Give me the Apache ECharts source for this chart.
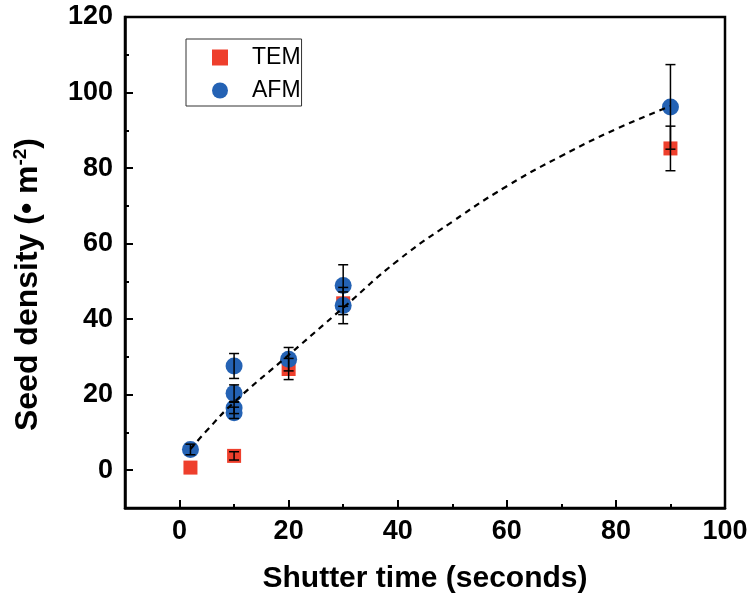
<!DOCTYPE html>
<html>
<head>
<meta charset="utf-8">
<script src="https://cdn.jsdelivr.net/npm/echarts@6/dist/echarts.min.js"></script>
<style>
html,body{margin:0;padding:0;background:#fff;}
#chart{width:751px;height:604px;}
</style>
</head>
<body>
<div id="chart"></div>
<script>
// ---- data ----
var temX = [2, 10, 20, 30, 90];
var temY = [0.7, 3.8, 26.8, 44.2, 85.2];
var temErr = [0, 1.1, 2.8, 3.0, 5.9];

var afmX = [2, 10, 10, 10, 10, 20, 30, 30, 90];
var afmY = [5.5, 27.6, 20.4, 16.5, 15.2, 29.4, 48.9, 43.6, 96.2];
var afmErr = [1.4, 3.3, 2.2, 1.5, 1.5, 3.1, 5.5, 4.8, 11.2];

var fitX = [2, 5, 10, 20, 30, 40, 50, 60, 70, 80, 90];
var fitY = [5.6, 10.5, 18, 30.5, 43, 55.5, 65.8, 75.2, 83.2, 90.3, 96.4];

var xMajorTicks = [0, 20, 40, 60, 80, 100];
var yMajorTicks = [0, 20, 40, 60, 80, 100, 120];

var FONT = "'Liberation Sans', Arial, sans-serif";

function zip(xs, ys) { return xs.map(function (x, i) { return [x, ys[i]]; }); }
function zip3(xs, ys, es) { return xs.map(function (x, i) { return [x, ys[i], es[i]]; }); }

function errRender(params, api) {
  var x = api.value(0), y = api.value(1), e = api.value(2);
  if (!e) return null;
  var top = api.coord([x, y + e]);
  var bot = api.coord([x, y - e]);
  var hw = 5;
  var style = { stroke: '#000', lineWidth: 1.5, fill: null };
  return {
    type: 'group',
    children: [
      { type: 'line', shape: { x1: top[0], y1: top[1], x2: bot[0], y2: bot[1] }, style: style },
      { type: 'line', shape: { x1: top[0] - hw, y1: top[1], x2: top[0] + hw, y2: top[1] }, style: style },
      { type: 'line', shape: { x1: bot[0] - hw, y1: bot[1], x2: bot[0] + hw, y2: bot[1] }, style: style }
    ]
  };
}

var chart = echarts.init(document.getElementById('chart'), null, { renderer: 'canvas' });

var baseX = {
  type: 'value', min: -10, max: 100, interval: 10,
  axisLine: { show: true, onZero: false, lineStyle: { color: '#000', width: 2.5 } },
  splitLine: { show: false }
};
var baseY = {
  type: 'value', min: -10, max: 120, interval: 10,
  axisLine: { show: true, onZero: false, lineStyle: { color: '#000', width: 2.5 } },
  splitLine: { show: false }
};

var option = {
  backgroundColor: '#fff',
  animation: false,
  grid: { left: 125, right: 26, top: 17, bottom: 96, show: true, borderColor: '#000', borderWidth: 2.5, containLabel: false },
  legend: {
    left: 186, top: 39, orient: 'vertical',
    padding: [7, 1, 4, 26],
    itemGap: 10, itemWidth: 16, itemHeight: 16,
    borderColor: '#333', borderWidth: 1,
    textStyle: { fontFamily: FONT, fontSize: 23, color: '#000', padding: [0, 0, 0, 19] },
    data: [
      { name: 'TEM', icon: 'path://M1,1L15,1L15,15L1,15Z' },
      { name: 'AFM', icon: 'circle' }
    ]
  },
  xAxis: [
    Object.assign({}, baseX, {
      position: 'bottom',
      name: 'Shutter time (seconds)', nameLocation: 'middle', nameGap: 56,
      nameTextStyle: { fontFamily: FONT, fontSize: 30, fontWeight: 'bold', color: '#000' },
      axisTick: { show: true, inside: true, length: 4, lineStyle: { color: '#000', width: 2 } },
      axisLabel: {
        show: true, margin: 10, fontFamily: FONT, fontSize: 27, fontWeight: 'bold', color: '#000',
        formatter: function (v) { return xMajorTicks.indexOf(v) >= 0 ? String(v) : ''; }
      }
    }),
    Object.assign({}, baseX, {
      position: 'bottom',
      axisLine: { show: false, onZero: false },
      axisTick: { show: true, inside: true, length: 8, customValues: xMajorTicks, lineStyle: { color: '#000', width: 2 } },
      axisLabel: { show: false }
    })
  ],
  yAxis: [
    Object.assign({}, baseY, {
      position: 'left',
      name: 'Seed density (\u2022 m{sup|-2})', nameLocation: 'middle', nameGap: 80, nameRotate: 90,
      nameTextStyle: {
        fontFamily: FONT, fontSize: 32, fontWeight: 'bold', color: '#000', padding: [0, 44, 0, 0],
        rich: { sup: { fontFamily: FONT, fontSize: 19, fontWeight: 'bold', color: '#000', verticalAlign: 'top', padding: [0, 0, 15, 0] } }
      },
      axisTick: { show: true, inside: true, length: 4, lineStyle: { color: '#000', width: 2 } },
      axisLabel: {
        show: true, margin: 12, fontFamily: FONT, fontSize: 27, fontWeight: 'bold', color: '#000',
        formatter: function (v) { return yMajorTicks.indexOf(v) >= 0 ? String(v) : ''; }
      }
    }),
    Object.assign({}, baseY, {
      position: 'left',
      axisLine: { show: false, onZero: false },
      axisTick: { show: true, inside: true, length: 8, customValues: yMajorTicks, lineStyle: { color: '#000', width: 2 } },
      axisLabel: { show: false }
    })
  ],
  series: [
    {
      name: 'TEM', type: 'scatter', symbol: 'rect', symbolSize: 14, z: 2,
      itemStyle: { color: '#EE3F2C', opacity: 1 },
      data: zip(temX, temY)
    },
    {
      name: 'AFM', type: 'scatter', symbol: 'circle', symbolSize: 17, z: 3,
      itemStyle: { color: '#2462B4', opacity: 1 },
      data: zip(afmX, afmY)
    },
    {
      name: 'fit', type: 'line', smooth: true, showSymbol: false, symbol: 'none', z: 4,
      lineStyle: { color: '#000', width: 2.2, type: [6, 5] },
      data: zip(fitX, fitY)
    },
    {
      name: 'TEM err', type: 'custom', z: 5, renderItem: errRender,
      data: zip3(temX, temY, temErr)
    },
    {
      name: 'AFM err', type: 'custom', z: 5, renderItem: errRender,
      data: zip3(afmX, afmY, afmErr)
    }
  ]
};
chart.setOption(option);
</script>
</body>
</html>
